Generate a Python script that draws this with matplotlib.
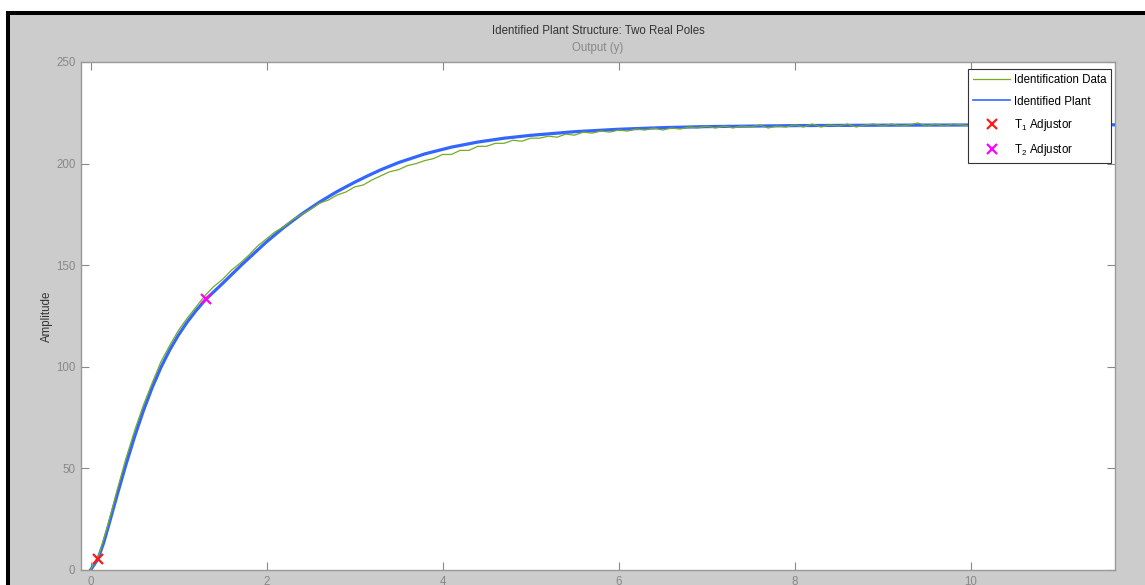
import numpy as np
import matplotlib
matplotlib.use("Agg")
import matplotlib.pyplot as plt
from matplotlib.patches import Rectangle

plt.rcParams['font.family'] = ['Liberation Sans Narrow', 'Liberation Sans', 'DejaVu Sans']
plt.rcParams['mathtext.fontset'] = 'custom'
plt.rcParams['mathtext.rm'] = 'Liberation Sans'
plt.rcParams['mathtext.it'] = 'Liberation Sans'

# identified plant (smooth response)
plant_t = [0, 0.085, 0.15, 0.2, 0.3, 0.4, 0.5, 0.6, 0.7, 0.8, 0.9, 1.0, 1.1, 1.2, 1.31,
           1.5, 1.72, 2.0, 2.2, 2.4, 2.6, 2.8, 3.0, 3.15, 3.3, 3.5, 3.8, 4.1, 4.4, 4.7,
           5.0, 5.5, 6.0, 6.5, 7.0, 8.0, 9.0, 10.0, 11.64]
plant_y = [0, 5.4, 13.5, 21, 36.5, 51.5, 65.5, 78.3, 89.7, 99.7, 108.3, 115.7, 122.1, 127.7, 133.2,
           141, 150.3, 161.5, 168.7, 175.2, 181, 186.2, 190.8, 194, 197, 200.5, 204.8, 208.1, 210.6, 212.5,
           213.9, 215.7, 216.9, 217.7, 218.2, 218.7, 218.9, 219, 219.1]

# identification data (noisy measurement), one value every 0.1 s
data_y = [0, 8, 22.5, 39, 54.5, 68.5, 81, 92, 102.5, 110.5,
          118, 124, 129.5, 135, 139.5, 143, 147.5, 151, 155, 159.5,
          163, 166.5, 169, 172.5, 175, 177.5, 180.5, 182, 184.5, 186,
          188.5, 189.5, 192, 194, 196, 197, 199, 200, 201.5, 202.5,
          204.5, 204.5, 206.5, 206.5, 208.5, 208.5, 210, 210, 211.5, 211,
          212.5, 212.5, 213.5, 213, 214.5, 214, 215.5, 215, 216, 215.5,
          216.5, 216, 217, 216.5, 217.5, 216.5, 217.5, 217, 218, 217.5,
          218.5, 217.5, 218.5, 217.5, 218.5, 218, 219, 217.5, 218.5, 218,
          219, 218, 219.5, 218, 219, 218.5, 219.5, 218, 219, 219.5,
          218.5, 219.5, 218.5, 219, 220, 218.5, 219.5, 218.5, 219.5, 219,
          218.5, 219.5, 219, 218.5, 220, 219, 218.5, 219.5, 219, 218.5,
          219.5, 219, 218.5, 219.5, 219, 220, 221]
data_t = [i / 10 for i in range(len(data_y))]

t1_point = (0.085, 5.4)
t2_point = (1.31, 133.2)

x_ticks = [0, 2, 4, 6, 8, 10]
y_ticks = [0, 50, 100, 150, 200, 250]

W, H = 1145, 585
fig = plt.figure(figsize=(W / 100, H / 100), dpi=100)
fig.patch.set_facecolor('white')
frame = Rectangle((8 / W, -0.05), 1.2, 1 - 13 / H + 0.05, transform=fig.transFigure,
                  facecolor='#cccccc', edgecolor='black', linewidth=2.9, zorder=-10)
fig.patches.append(frame)

ax = fig.add_axes([81 / W, 1 - 570 / H, (1115 - 81) / W, (570 - 62) / H])
ax.set_zorder(1)
ax.set_facecolor('white')

ax.plot(plant_t, plant_y, color='#3366ff', linewidth=2.3, label='Identified Plant', zorder=3)
ax.plot(data_t, data_y, color='#77aa22', linewidth=0.9, label='Identification Data', zorder=4)
ax.plot(*t1_point, linestyle='none', marker='x', color='#ff1a1a', markersize=7,
        markeredgewidth=1.6, label='T$_1$ Adjustor', zorder=5)
ax.plot(*t2_point, linestyle='none', marker='x', color='#ff00ff', markersize=7,
        markeredgewidth=1.6, label='T$_2$ Adjustor', zorder=5)

ax.set_xlim(-0.108, 11.64)
ax.set_ylim(0, 250)
ax.set_xticks(x_ticks)
ax.set_yticks(y_ticks)
ax.tick_params(direction='in', length=6, width=0.8, color='#888888', labelcolor='#888888',
               labelsize=8.3, top=True, right=True, pad=4)
for s in ax.spines.values():
    s.set_color('#999999')
    s.set_linewidth(1.0)

ax.set_ylabel('Amplitude', fontsize=8.3, color='#333333', labelpad=2)
fig.text(598 / W, 1 - 31 / H, 'Identified Plant Structure: Two Real Poles', ha='center', va='center',
         fontsize=8.3, color='#333333')
fig.text(598 / W, 1 - 48 / H, 'Output (y)', ha='center', va='center', fontsize=8.3, color='#888888')

h, l = ax.get_legend_handles_labels()
order = [1, 0, 2, 3]
leg = ax.legend([h[i] for i in order], [l[i] for i in order], loc='upper left',
                bbox_to_anchor=(0.858, 0.986), borderaxespad=0, fancybox=False, framealpha=1,
                edgecolor='#333333', fontsize=8.3, handlelength=3.2, handletextpad=0.3,
                labelspacing=0.8, borderpad=0.45)
leg.get_frame().set_linewidth(0.8)
leg.legend_handles[1].set_linewidth(1.2)

fig.savefig('out.png', dpi=100, facecolor=fig.get_facecolor())
